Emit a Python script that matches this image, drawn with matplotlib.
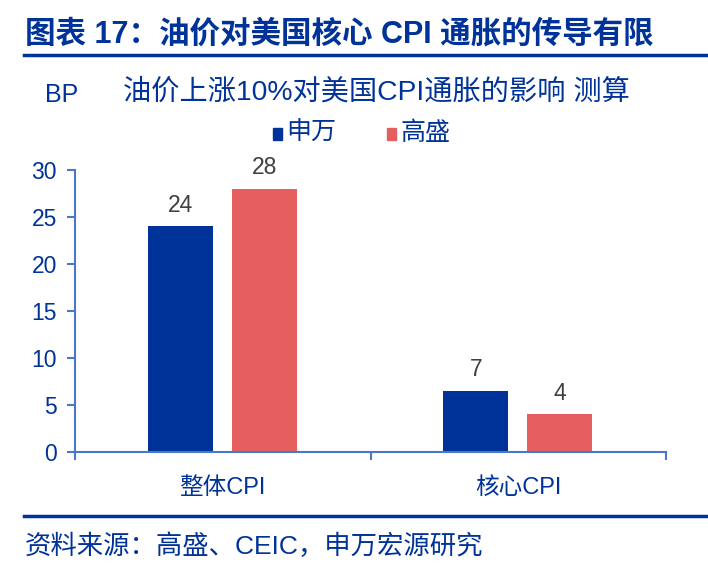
import numpy as np
import matplotlib
matplotlib.use('Agg')
import matplotlib.pyplot as plt

plt.rcParams['font.family'] = ['Liberation Sans', 'Noto Sans CJK SC']

categories = ['整体CPI', '核心CPI']
shenwan = [24, 6.5]
goldman = [28, 4]
shenwan_labels = ['24', '7']
goldman_labels = ['28', '4']
yticks = [0, 5, 10, 15, 20, 25, 30]

BLUE = '#003399'
RED = '#E65F5F'
AXIS = '#4A78C8'
TEXT = '#003399'

fig = plt.figure(figsize=(7.08, 5.68), dpi=100)
ax = fig.add_axes([75 / 708, 1 - 452 / 568, 591 / 708, 282 / 568])

x = np.arange(len(categories))
w = 0.22
b1 = ax.bar(x - 0.143, shenwan, w, color=BLUE)
b2 = ax.bar(x + 0.141, goldman, w, color=RED)

for bars, labels in [(b1, shenwan_labels), (b2, goldman_labels)]:
    for rect, lab in zip(bars, labels):
        ax.text(rect.get_x() + rect.get_width() / 2, rect.get_height() + 1.0, lab,
                ha='center', va='bottom', fontsize=16.5, color='#404040')

ax.set_xlim(-0.5, 1.5)
ax.set_ylim(0, 30)
ax.set_yticks(yticks)
ax.set_xticks(x)
ax.set_xticklabels(categories)
ax.set_xticks([-0.5, 0.5, 1.5], minor=True)

for s in ['top', 'right']:
    ax.spines[s].set_visible(False)
for s in ['left', 'bottom']:
    ax.spines[s].set_color(AXIS)
    ax.spines[s].set_linewidth(1.5)

ax.tick_params(axis='y', colors=AXIS, labelcolor=TEXT, labelsize=16.5, length=6, width=1.5, pad=7)
ax.tick_params(axis='x', which='major', length=0, labelcolor=TEXT, labelsize=17, pad=18)
ax.tick_params(axis='x', which='minor', colors=AXIS, length=6, width=1.5)

# header / footer
fig.text(25 / 708, 1 - 35 / 568, '图表 17：油价对美国核心 CPI 通胀的传导有限', fontsize=22,
         fontweight='bold', color=TEXT, ha='left', va='center')
fig.add_artist(plt.Line2D([24 / 708, 1], [1 - 54.5 / 568] * 2, color=BLUE, lw=2.5))
fig.add_artist(plt.Line2D([24 / 708, 1], [1 - 515.5 / 568] * 2, color=BLUE, lw=2.5))
fig.text(25 / 708, 1 - 546 / 568, '资料来源：高盛、CEIC，申万宏源研究', fontsize=19,
         color=TEXT, ha='left', va='center')

fig.text(45 / 708, 1 - 95 / 568, 'BP', fontsize=18, color=TEXT, ha='left', va='center')
fig.text(376 / 708, 1 - 92 / 568, '油价上涨10%对美国CPI通胀的影响 测算', fontsize=20.3,
         color=TEXT, ha='center', va='center')

# legend
fig.patches.append(plt.Rectangle((273 / 708, 1 - 140 / 568), 9 / 708, 12 / 568,
                                 transform=fig.transFigure, color=BLUE))
fig.text(286 / 708, 1 - 133 / 568, '申万', fontsize=18, color=TEXT, ha='left', va='center')
fig.patches.append(plt.Rectangle((387 / 708, 1 - 140 / 568), 9 / 708, 12 / 568,
                                 transform=fig.transFigure, color=RED))
fig.text(400 / 708, 1 - 133 / 568, '高盛', fontsize=18, color=TEXT, ha='left', va='center')

fig.savefig('out.png', dpi=100)
